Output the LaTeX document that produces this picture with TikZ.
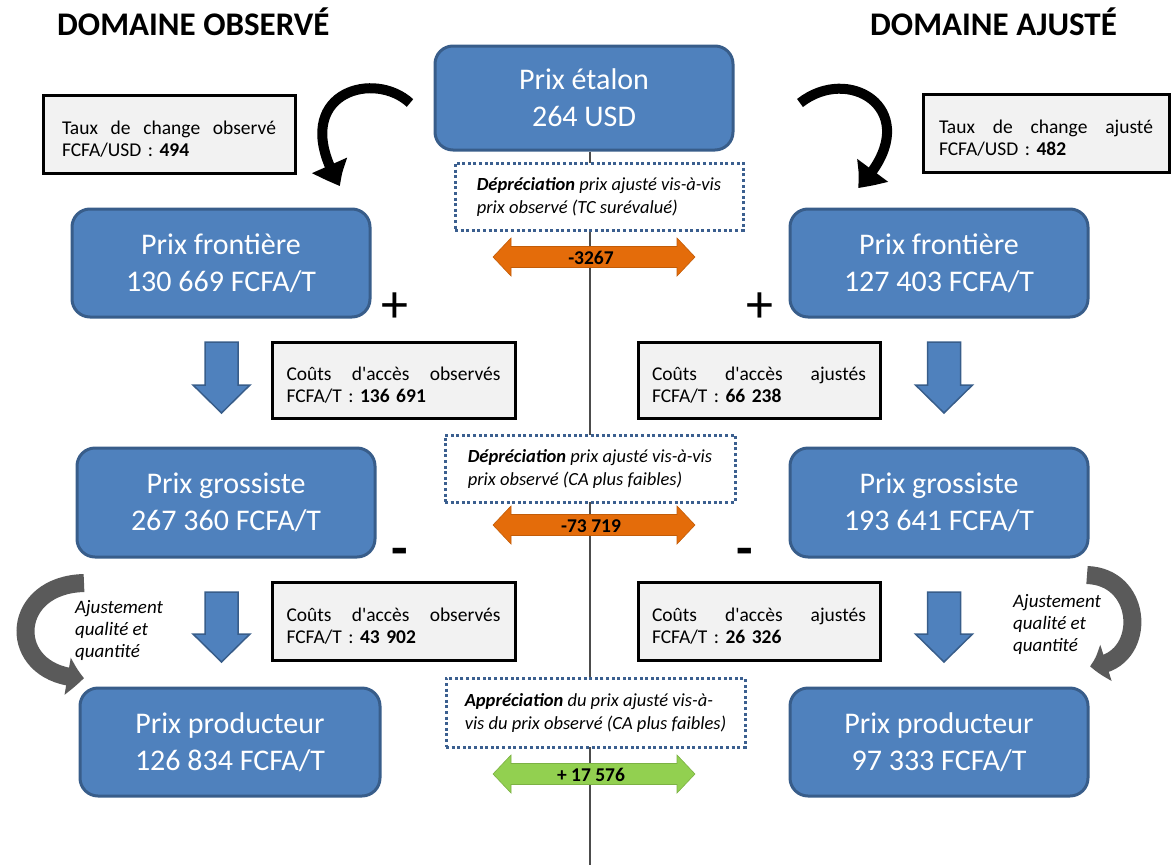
\documentclass[tikz,border=0pt]{standalone}
\usepackage{fontspec}
\setmainfont{Carlito}
\usetikzlibrary{arrows.meta,bending}
\definecolor{boxblue}{HTML}{4F81BD}
\definecolor{boxedge}{HTML}{385D8A}
\definecolor{greybox}{HTML}{F2F2F2}
\definecolor{dotblue}{HTML}{3B5F8F}
\definecolor{orangeA}{HTML}{E46C0A}
\definecolor{greenA}{HTML}{92D050}
\definecolor{greyarrow}{HTML}{5A5A5A}
\frenchspacing
\newcommand{\DownArr}[3]{%
  \filldraw[fill=boxblue, draw=boxedge, line width=1.5pt, line join=miter]
    (#1-16.5,#2) -- (#1+16.5,#2) -- (#1+16.5,#3-28) -- (#1+28.5,#3-28) -- (#1,#3)
    -- (#1-28.5,#3-28) -- (#1-16.5,#3-28) -- cycle;}
\newcommand{\DblArr}[2]{%
  \filldraw[fill=#2, draw=#2!85!black, line width=0.6pt]
    (493,#1) -- (511,#1-19) -- (511,#1-10.5) -- (677,#1-10.5) -- (677,#1-19) -- (695,#1)
    -- (677,#1+19) -- (677,#1+10.5) -- (511,#1+10.5) -- (511,#1+19) -- cycle;}
\newcommand{\JLine}[1]{\noindent\hbox to 214pt{\rule{0pt}{24pt}#1}}
\begin{document}
\begin{tikzpicture}[x=1pt,y=-1pt,
  bluebox/.style={draw=boxedge, line width=3pt, fill=boxblue, rounded corners=18pt,
    text=white, align=center, font=\fontsize{30}{37}\selectfont,
    minimum width=298pt, minimum height=108pt, inner sep=0pt},
  infobox/.style={draw=black, line width=3pt, fill=greybox,
    font=\fontsize{19.5}{22.5}\selectfont, align=left, text width=214pt,
    inner xsep=10pt, inner ysep=0pt},
  notebox/.style={draw=dotblue, line width=3pt, dash pattern=on 3pt off 2.6pt,
    fill=white, font=\fontsize{18.5}{23}\selectfont\itshape, align=left,
    inner xsep=8pt, inner ysep=0pt},
  diffnum/.style={font=\fontsize{19.5}{19.5}\selectfont\bfseries, inner sep=0pt},
  heading/.style={font=\fontsize{33}{33}\selectfont\bfseries, inner sep=0pt, anchor=base west},
  sign/.style={font=\fontsize{54}{54}\selectfont, inner sep=0pt},
  adjtext/.style={font=\fontsize{19}{22}\selectfont\itshape, align=left, inner sep=0pt, anchor=north west},
  midline/.style={draw=black!70, line width=1.5pt},
  blackarrow/.style={line width=10pt, -{Triangle[bend,length=24pt,width=36pt]}},
  greyarr/.style={draw=greyarrow, line width=18pt, -{Triangle[bend,length=17pt,width=36pt]}}
]
\useasboundingbox (0,0) rectangle (1173,865);

% headings
\node[heading] (hL) at (57,35) {DOMAINE OBSERVÉ};
\node[heading] (hR) at (870,35) {DOMAINE AJUSTÉ};

% central box and vertical line
\node[bluebox, minimum height=104pt] (etalon) at (584,98) {Prix étalon\\264 USD};
\coordinate (lineend) at (590,865);
\draw[midline] ([xshift=6pt]etalon.south) -- (lineend);

% blue price boxes
\node[bluebox] (frontL) at (221,263) {Prix frontière\\130 669 FCFA/T};
\node[bluebox] (frontR) at (939,263) {Prix frontière\\127 403 FCFA/T};
\node[bluebox, minimum height=109pt] (grosL) at (226,502.5) {Prix grossiste\\267 360 FCFA/T};
\node[bluebox, minimum height=109pt] (grosR) at (939,502.5) {Prix grossiste\\193 641 FCFA/T};
\node[bluebox, minimum width=300pt] (prodL) at (230,742) {Prix producteur\\126 834 FCFA/T};
\node[bluebox] (prodR) at (939,742) {Prix producteur\\97 333 FCFA/T};

% grey info boxes
\node[infobox, minimum width=252pt, minimum height=78pt] (tauxL) at (169,134)
  {\JLine{Taux\hfill de\hfill change\hfill observé}\\FCFA/USD : \textbf{494}};
\node[infobox, minimum width=246pt, minimum height=78pt] (tauxR) at (1046,133)
  {\JLine{Taux\hfill de\hfill change\hfill ajusté}\\FCFA/USD : \textbf{482}};
\node[infobox, minimum width=243pt, minimum height=76pt] (coutL1) at (393.5,380)
  {\JLine{Coûts\hfill d\textquotesingle accès\hfill observés}\\FCFA/T : \textbf{136 691}};
\node[infobox, minimum width=242pt, minimum height=76pt] (coutR1) at (759,380)
  {\JLine{Coûts\hfill d\textquotesingle accès\hfill ajustés}\\FCFA/T : \textbf{66 238}};
\node[infobox, minimum width=243pt, minimum height=78pt] (coutL2) at (393.5,621)
  {\JLine{Coûts\hfill d\textquotesingle accès\hfill observés}\\FCFA/T : \textbf{43 902}};
\node[infobox, minimum width=242pt, minimum height=78pt] (coutR2) at (759,621)
  {\JLine{Coûts\hfill d\textquotesingle accès\hfill ajustés}\\FCFA/T : \textbf{26 326}};

% dotted note boxes
\node[notebox, minimum width=288pt, minimum height=67pt] (noteA) at (599,196.5)
  {\textbf{Dépréciation} prix ajusté vis-à-vis\\prix observé (TC surévalué)};
\node[notebox, minimum width=290pt, minimum height=67pt] (noteB) at (590,468.5)
  {\textbf{Dépréciation} prix ajusté vis-à-vis\\prix observé (CA plus faibles)};
\node[notebox, minimum width=299pt, minimum height=69pt] (noteC) at (595.5,712.5)
  {\textbf{Appréciation} du prix ajusté vis-à-\\vis du prix observé (CA plus faibles)};

% difference arrows
\DblArr{257}{orangeA}
\DblArr{525}{orangeA}
\DblArr{774}{greenA}
\node[diffnum] (dA) at (591,258) {-3267};
\node[diffnum] (dB) at (591,526) {-73 719};
\node[diffnum] (dC) at (591,775) {+ 17 576};

% blue down arrows
\DownArr{221.5}{342}{413}
\DownArr{944}{342}{413}
\DownArr{221.5}{592}{662}
\DownArr{944}{592}{662}

% signs
\node[sign] (plusL) at (395,308) {+};
\node[sign] (plusR) at (760,308) {+};
\node[sign, font=\fontsize{54}{54}\selectfont\bfseries] (minusL) at (400,557) {-};
\node[sign, font=\fontsize{54}{54}\selectfont\bfseries] (minusR) at (745,557) {-};

% black curved arrows
\coordinate (bLs) at (410,103);
\coordinate (bLe) at (340,186);
\draw[blackarrow] (bLs) .. controls (372,68) and (285,95) .. (bLe);
\coordinate (bRs) at (800,103);
\coordinate (bRe) at (858,188);
\draw[blackarrow] (bRs) .. controls (852,62) and (930,115) .. (bRe);

% grey adjustment arrows
\coordinate (gLs) at (84,583);
\coordinate (gLe) at (84,678);
\draw[greyarr] (gLs) .. controls (6,585) and (6,678) .. (gLe);
\coordinate (gRs) at (1087,575);
\coordinate (gRe) at (1090,666);
\draw[greyarr] (gRs) .. controls (1147,577) and (1147,666) .. (gRe);

\node[adjtext] (ajL) at (75,600) {Ajustement\\qualité et\\quantité};
\node[adjtext] (ajR) at (1013,594) {Ajustement\\qualité et\\quantité};
\end{tikzpicture}
\end{document}
